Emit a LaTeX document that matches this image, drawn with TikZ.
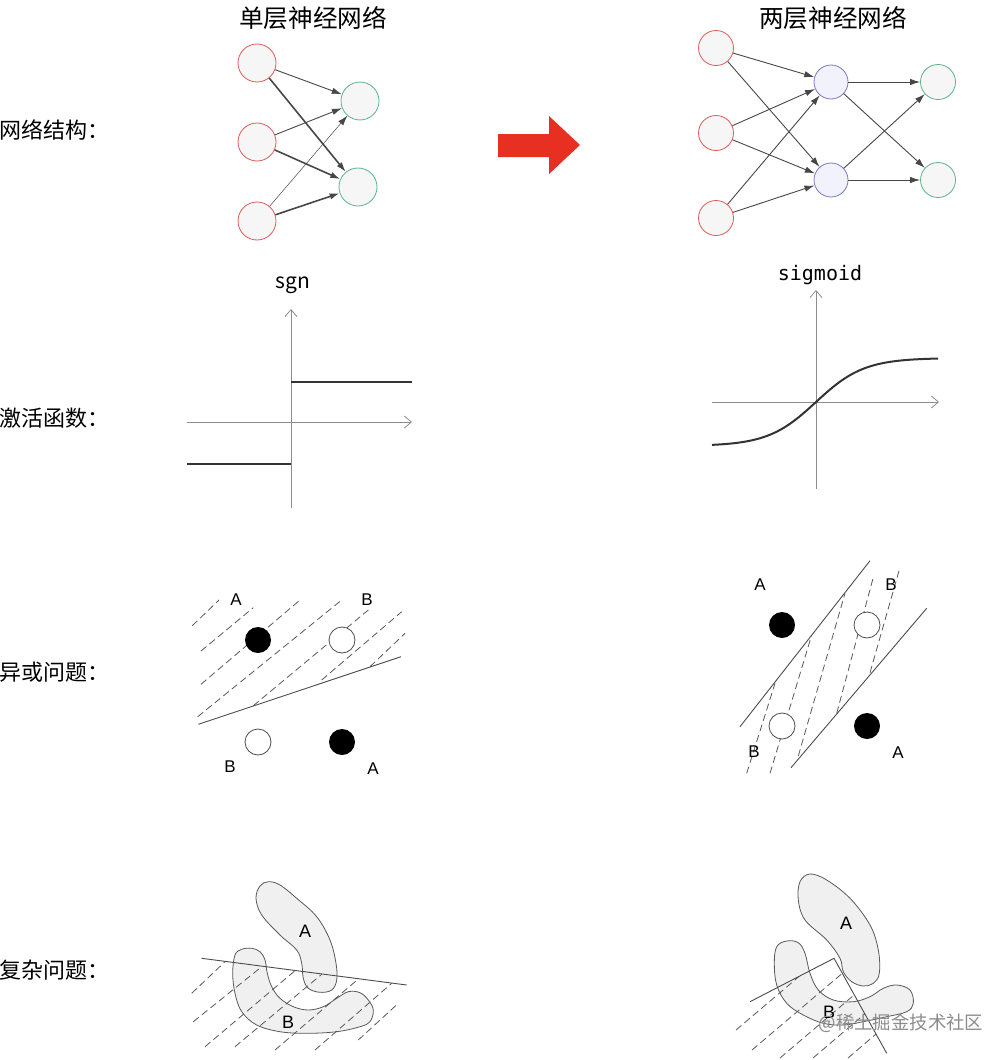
\documentclass[tikz,border=0pt]{standalone}
\usepackage{fontspec}
\setmainfont{Noto Sans CJK SC}
\newfontfamily\monof{DejaVu Sans Mono}
\newfontfamily\latf{Liberation Sans}
\usetikzlibrary{arrows.meta}
\definecolor{redc}{RGB}{222,90,90}
\definecolor{greenc}{RGB}{90,180,135}
\definecolor{bluec}{RGB}{120,120,200}
\definecolor{bluefill}{RGB}{242,242,252}
\definecolor{nodefill}{RGB}{246,246,246}
\definecolor{arrowred}{RGB}{232,48,34}
\definecolor{axisc}{RGB}{140,140,140}
\definecolor{shapefill}{RGB}{240,240,240}
\tikzset{
  inred/.style={circle,draw=redc,fill=nodefill,minimum size=19pt,inner sep=0pt,line width=0.4pt},
  outgreen/.style={circle,draw=greenc,fill=nodefill,minimum size=19pt,inner sep=0pt,line width=0.4pt},
  inred2/.style={inred,minimum size=17.5pt},
  outgreen2/.style={outgreen,minimum size=17.5pt},
  hid/.style={circle,draw=bluec,fill=bluefill,minimum size=17pt,inner sep=0pt,line width=0.4pt},
  conn/.style={draw=black!72,-{Latex[length=5pt,width=3.2pt]}},
  thinconn/.style={conn,line width=0.25pt},
  midconn/.style={conn,line width=0.45pt},
  thickconn/.style={conn,line width=0.8pt},
  axis/.style={draw=axisc,line width=0.4pt,-{Straight Barb[length=3.5pt,width=6pt]}},
  stepline/.style={draw=black!80,line width=1.3pt},
  dashln/.style={draw=black!65,line width=0.4pt,dash pattern=on 3.5pt off 2pt},
  sepline/.style={draw=black!70,line width=0.45pt},
  blackdot/.style={circle,fill=black,minimum size=13pt,inner sep=0pt},
  whitedot/.style={circle,draw=black!70,fill=white,minimum size=13pt,inner sep=0pt,line width=0.4pt},
  lab/.style={font=\latf\fontsize{8.5}{10}\selectfont,inner sep=0pt},
  rowlab/.style={anchor=west,inner sep=0pt,font=\fontsize{11}{13}\selectfont},
  titlelab/.style={inner sep=0pt,font=\fontsize{12.3}{14}\selectfont},
  blob/.style={draw=black!65,fill=shapefill,line width=0.4pt}
}
\begin{document}
\begin{tikzpicture}[x=0.5pt,y=-0.5pt]
\useasboundingbox (0,0) rectangle (1006,1060);
\fill[white] (0,0) rectangle (1006,1060);

% titles and row labels
\node[titlelab] (t1) at (313,18) {单层神经网络};
\node[titlelab] (t2) at (833,18) {两层神经网络};
\node[rowlab] (r1) at (-1,130) {网络结构：};
\node[rowlab] (r2) at (-1,418) {激活函数：};
\node[rowlab] (r3) at (-1,672) {异或问题：};
\node[rowlab] (r4) at (-1,970) {复杂问题：};

% single layer network
\node[inred] (a1) at (257,63) {};
\node[inred] (a2) at (257,142) {};
\node[inred] (a3) at (257,221) {};
\node[outgreen] (b1) at (360,101) {};
\node[outgreen] (b2) at (358,187) {};
\draw[midconn] (a1) -- (b1);
\draw[thickconn] (a1) -- (b2);
\draw[midconn] (a2) -- (b1);
\draw[thickconn] (a2) -- (b2);
\draw[thinconn] (a3) -- (b1);
\draw[thickconn] (a3) -- (b2);

% red arrow
\fill[arrowred] (498,134) -- (549,134) -- (549,116) -- (580,145) -- (549,174) -- (549,157) -- (498,157) -- cycle;

% two layer network
\node[inred2] (c1) at (716,48) {};
\node[inred2] (c2) at (716,133) {};
\node[inred2] (c3) at (716,218) {};
\node[hid] (h1) at (831,82) {};
\node[hid] (h2) at (831,180) {};
\node[outgreen2] (o1) at (938,82) {};
\node[outgreen2] (o2) at (938,180) {};
\foreach \i in {c1,c2,c3}{
  \draw[midconn] (\i) -- (h1);
  \draw[midconn] (\i) -- (h2);
}
\foreach \i in {h1,h2}{
  \draw[midconn] (\i) -- (o1);
  \draw[midconn] (\i) -- (o2);
}

% sgn plot
\node[inner sep=0pt,font=\fontsize{10.5}{12}\selectfont] (sgnlab) at (293,285) {sgn};
\coordinate (sy0) at (291,508);
\coordinate (sy1) at (291,309);
\coordinate (sx0) at (187,422);
\coordinate (sx1) at (412,422);
\draw[axis] (sy0) -- (sy1);
\draw[axis] (sx0) -- (sx1);
\draw[stepline] (291,382) -- (412,382);
\draw[stepline] (187,464) -- (291,464);

% sigmoid plot
\node[inner sep=0pt,font=\monof\fontsize{10}{12}\selectfont] (siglab) at (820,275) {sigmoid};
\coordinate (gy0) at (816,489);
\coordinate (gy1) at (816,290);
\coordinate (gx0) at (712,402);
\coordinate (gx1) at (939,402);
\draw[axis] (gy0) -- (gy1);
\draw[axis] (gx0) -- (gx1);
\draw[draw=black!80,line width=1pt] plot[domain=712:938,samples=90,smooth] (\x,{402-44*tanh((\x-816)/48)});

% XOR left
\draw[dashln] (192.3,625.7) -- (219,600);
\draw[dashln] (201,651) -- (253.3,607.7);
\draw[dashln] (201,684.3) -- (300,600);
\draw[dashln] (197.7,716.7) -- (341.7,600);
\draw[dashln] (253.3,705.7) -- (368.3,610);
\draw[dashln] (321.7,680) -- (401.7,611.7);
\draw[dashln] (370,666.7) -- (405,633.3);
\draw[sepline] (198.3,724.3) -- (401,656.7);
\node[blackdot] (xa1) at (258,640) {};
\node[whitedot] (xb1) at (342,640) {};
\node[whitedot] (xb2) at (258,742) {};
\node[blackdot] (xa2) at (342,742) {};
\node[lab] (la1) at (236,600) {A};
\node[lab] (lb1) at (367,600) {B};
\node[lab] (lb2) at (230,767) {B};
\node[lab] (la2) at (373,769) {A};

% XOR right
\draw[dashln] (746.7,773.3) -- (775,683.3);
\draw[dashln] (770,773.3) -- (811.7,635);
\draw[dashln] (798.3,756) -- (845,593.3);
\draw[dashln] (836.7,713.3) -- (873.3,577.3);
\draw[dashln] (870,672.7) -- (900,567.3);
\draw[sepline] (740,726.7) -- (870,560.7);
\draw[sepline] (791,767.7) -- (926.7,608.3);
\node[blackdot] (ya1) at (782,625) {};
\node[whitedot] (yb1) at (867,625) {};
\node[whitedot] (yb2) at (782,726) {};
\node[blackdot] (ya2) at (867,726) {};
\node[lab] (ma1) at (760,585) {A};
\node[lab] (mb1) at (891,585) {B};
\node[lab] (mb2) at (754,752) {B};
\node[lab] (ma2) at (898,753) {A};

% complex left
\draw[blob] plot[smooth cycle,tension=0.6] coordinates {(268.3,881.7) (280,885) (296.7,898.3) (316.7,916.7) (330,940) (336,963.3) (336.7,980) (331.7,990) (320,992.3) (308.3,988.3) (303.3,978.3) (301.7,963.3) (296.7,950) (280,935) (261.7,915) (256,898.3) (260,886)};
\draw[blob] plot[smooth cycle,tension=0.6] coordinates {(235,955) (241.7,949.3) (251.7,948.3) (260,951.7) (265,960) (267.3,973.3) (271.7,986.7) (280,998.3) (293.3,1006.7) (308.3,1010) (323.3,1006.7) (336.7,998.3) (348.3,991.7) (360,992.7) (368.3,1000) (373.3,1010) (370,1021.7) (360,1026.7) (336.7,1031.7) (306.7,1033.3) (280,1031.7) (256.7,1025) (241.7,1011.7) (235,993.3) (232.7,973.3)};
\draw[dashln] (191.7,993.3) -- (225,961.7);
\draw[dashln] (193.3,1021.7) -- (261.7,966.7);
\draw[dashln] (205,1046.7) -- (295,970.7);
\draw[dashln] (235,1046.7) -- (321.7,974.3);
\draw[dashln] (275,1050) -- (358.3,979);
\draw[dashln] (315,1050) -- (391.7,983.3);
\draw[dashln] (358.3,1040) -- (398.3,1003.3);
\draw[sepline] (201.7,958.3) -- (406.7,985);
\node[lab,font=\latf\fontsize{9}{10}\selectfont] (ka) at (305,931) {A};
\node[lab,font=\latf\fontsize{9}{10}\selectfont] (kb) at (288,1022) {B};

% complex right
\draw[blob] plot[smooth cycle,tension=0.6] coordinates {(810,874) (826.7,880) (850,898.3) (870,925) (878.3,950) (879.3,973.3) (873.3,983.3) (863.3,986) (851.7,981.7) (843.3,971.7) (840,958.3) (826.7,940) (805,920) (798.3,900) (800,881.7)};
\draw[blob] plot[smooth cycle,tension=0.6] coordinates {(776.7,946.7) (786.7,941) (798.3,942.7) (805,953.3) (810,973.3) (818.3,990) (833.3,1000) (853.3,1001.7) (870,996.7) (883.3,988.3) (896.7,985) (910,990) (913.3,1003.3) (906.7,1011.7) (886.7,1016.7) (863.3,1021.7) (843.3,1025) (823.3,1023.3) (803.3,1015) (786.7,1003.3) (776.7,985) (774.3,963.3)};
\draw[dashln] (736,1030) -- (799,976.5);
\draw[dashln] (752,1050) -- (842.3,973.3);
\draw[dashln] (780,1058) -- (854.3,994.8);
\draw[dashln] (813,1058) -- (864.8,1013.9);
\draw[dashln] (848,1058) -- (876,1034);
\coordinate (v0) at (750,1001.7);
\coordinate (v1) at (834,958.3);
\coordinate (v2) at (886.7,1053.3);
\draw[sepline] (v0) -- (v1) -- (v2);
\node[lab,font=\latf\fontsize{9}{10}\selectfont] (na) at (846,923) {A};
\node[lab,font=\latf\fontsize{9}{10}\selectfont] (nb) at (829,1012) {B};

% watermark
\node[inner sep=0pt,text=black!45,font=\fontsize{9.2}{11}\selectfont] (wm) at (901,1023) {@稀土掘金技术社区};
\end{tikzpicture}
\end{document}
